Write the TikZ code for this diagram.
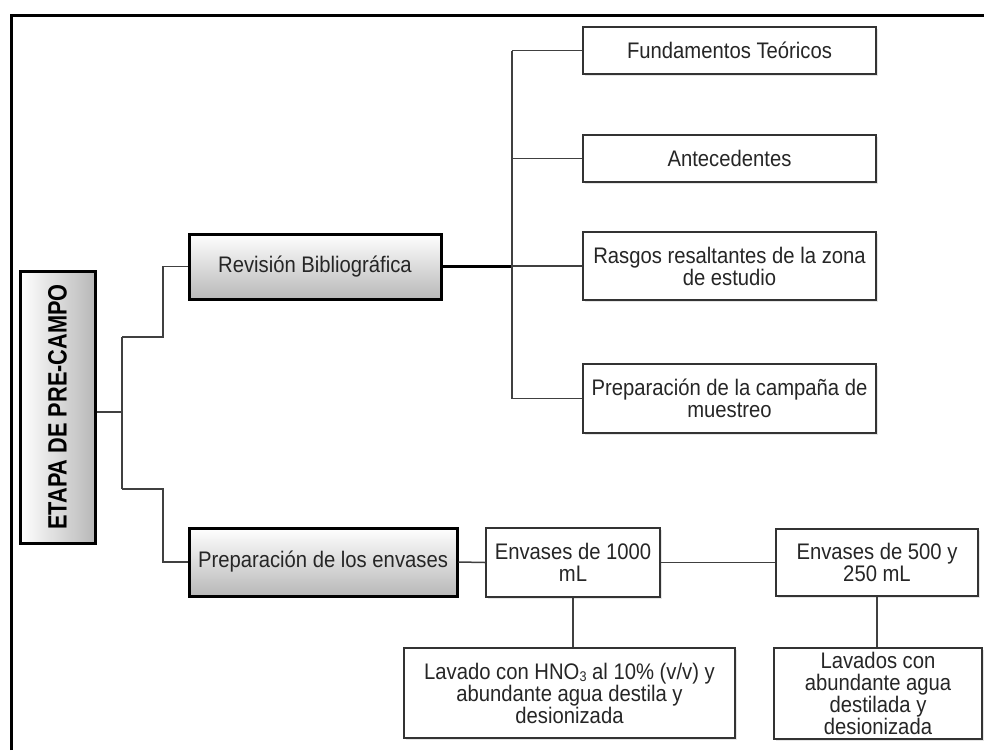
\documentclass[tikz,border=0pt]{standalone}
\usepackage{fontspec}
\setmainfont[FakeStretch=0.9]{Liberation Sans}
\newfontfamily\etapafont[FakeStretch=0.82]{Liberation Sans}
\newcommand{\mysubthree}{\raisebox{-0.2ex}{\fontsize{14}{14}\selectfont 3}}
\usetikzlibrary{shadows}
\begin{document}
\begin{tikzpicture}[x=1pt,y=-1pt,
  txt/.style={text=black!85, font=\fontsize{22.5}{22}\selectfont, align=center, inner sep=0pt},
  bigbase/.style={txt, draw=black, line width=3pt,
    drop shadow={opacity=0.3, shadow xshift=2pt, shadow yshift=-2pt}},
  bigbox/.style={bigbase, top color=white, bottom color=black!28},
  sidebox/.style={bigbase, left color=white, right color=black!28},
  smallbox/.style={txt, draw=black!80, line width=1.5pt, fill=white,
    drop shadow={opacity=0.2, shadow xshift=2pt, shadow yshift=-2pt}},
  conn/.style={draw=black!75, line width=1.5pt},
  thickconn/.style={draw=black, line width=2.5pt}]
\useasboundingbox (0,0) rectangle (984,750);
\fill[white] (0,0) rectangle (984,750);
\draw[line width=3pt] (11,750) -- (11,15) -- (984,15);

% main left box
\node[sidebox, minimum width=75pt, minimum height=272pt] (etapa) at (57.5,407) {};
\node[txt, rotate=90, font=\etapafont\fontsize{26.5}{28}\selectfont\bfseries, text=black] (etapatext) at (etapa.center) {ETAPA DE PRE-CAMPO};

% second level
\node[bigbox, minimum width=252pt, minimum height=65pt] (rev) at (315,266.5) {Revisión Bibliográfica};
\node[bigbox, minimum width=268pt, minimum height=68pt] (prep) at (323,562) {Preparación de los envases};

% right column
\node[smallbox, minimum width=293pt, minimum height=47pt] (fund) at (729.5,50.5) {Fundamentos Teóricos};
\node[smallbox, minimum width=293pt, minimum height=47pt] (ante) at (729.5,158.5) {Antecedentes};
\node[smallbox, minimum width=293pt, minimum height=68pt] (rasg) at (729.5,266) {Rasgos resaltantes de la zona\\de estudio};
\node[smallbox, minimum width=293pt, minimum height=69pt] (camp) at (729.5,398.5) {Preparación de la campaña de\\muestreo};

% bottom row
\node[smallbox, minimum width=174pt, minimum height=69pt] (env1) at (573,562.5) {Envases de 1000\\mL};
\node[smallbox, minimum width=202pt, minimum height=67pt] (env5) at (877,562.5) {Envases de 500 y\\250 mL};
\node[smallbox, minimum width=331pt, minimum height=90pt] (lav1) at (569.5,693) {Lavado con HNO\mysubthree{} al 10\% (v/v) y\\abundante agua destila y\\desionizada};
\node[smallbox, minimum width=208pt, minimum height=91pt] (lav5) at (878,693.5) {Lavados con\\abundante agua\\destilada y\\desionizada};

% connectors from ETAPA
\coordinate (j0) at (122,412);
\coordinate (j1) at (163,337);
\coordinate (j2) at (163,489);
\draw[conn] (etapa.east |- j0) -- (j0);
\draw[conn] (j0 |- j1) -- (j0 |- j2);
\draw[conn] (j0 |- j1) -- (j1) -- (j1 |- rev.west) -- (rev.west);
\draw[conn] (j0 |- j2) -- (j2) -- (j2 |- prep.west) -- (prep.west);

% connectors from Revision
\coordinate (b) at (512,266.5);
\draw[thickconn] (rev.east) -- (b);
\draw[conn] (b |- fund.west) -- (b |- camp.west);
\draw[conn] (b |- fund.west) -- (fund.west);
\draw[conn] (b |- ante.west) -- (ante.west);
\draw[conn] (b |- rasg.west) -- (rasg.west);
\draw[conn] (b |- camp.west) -- (camp.west);

% connectors bottom
\draw[conn] (prep.east) -- (env1.west);
\draw[conn] (env1.east) -- (env5.west);
\draw[conn] (env1.south) -- (env1.south |- lav1.north);
\draw[conn] (env5.south) -- (env5.south |- lav5.north);
\end{tikzpicture}
\end{document}
